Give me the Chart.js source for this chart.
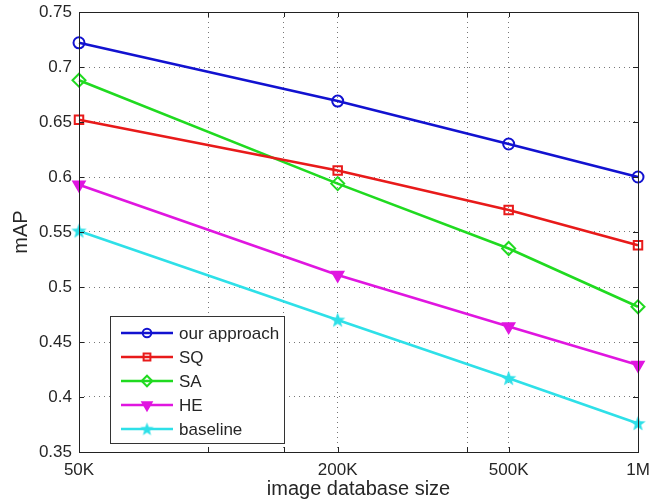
<!DOCTYPE html>
<html>
<head>
<meta charset="utf-8">
<script src="https://cdn.jsdelivr.net/npm/chart.js@4.4.1/dist/chart.umd.min.js"></script>
<style>
  html, body { margin: 0; padding: 0; background: #fff; }
  #wrap { width: 652px; height: 501px; position: relative; }
</style>
</head>
<body>
<div id="wrap"><canvas id="chart"></canvas></div>
<script>
// database sizes on the x axis
const sizes = [50000, 200000, 500000, 1000000];
const gridTicks = [50000, 100000, 150000, 200000, 400000, 500000, 1000000];
const tickNames = { 50000: '50K', 200000: '200K', 500000: '500K', 1000000: '1M' };

const seriesNames = ['our approach', 'SQ', 'SA', 'HE', 'baseline'];
const ourApproach = [0.722, 0.669, 0.630, 0.600];
const sq = [0.652, 0.606, 0.570, 0.538];
const sa = [0.688, 0.594, 0.535, 0.482];
const he = [0.593, 0.511, 0.464, 0.429];
const baseline = [0.551, 0.470, 0.417, 0.376];

const colors = ['#1212d0', '#e81a1a', '#20da20', '#e016e0', '#2ee0e8'];
const FONT = '"Liberation Sans", Arial, sans-serif';

// filled pentagram like matlab's 'p' marker
function makeStar(color, size) {
  const c = document.createElement('canvas');
  c.width = size; c.height = size;
  const g = c.getContext('2d');
  const m = size / 2;
  g.fillStyle = color;
  g.beginPath();
  for (let i = 0; i < 10; i++) {
    const r = i % 2 === 0 ? m - 0.5 : (m - 0.5) * 0.42;
    const a = -Math.PI / 2 + i * Math.PI / 5;
    const px = m + r * Math.cos(a), py = m + 0.5 + r * Math.sin(a);
    if (i === 0) g.moveTo(px, py); else g.lineTo(px, py);
  }
  g.closePath();
  g.fill();
  return c;
}
const starImg = makeStar(colors[4], 17);
const starSmall = makeStar(colors[4], 15);

const markers = [
  { pointStyle: 'circle', rotation: 0, radius: 5.5, fill: 'rgba(0,0,0,0)' },
  { pointStyle: 'rect', rotation: 0, radius: 6, fill: 'rgba(0,0,0,0)' },
  { pointStyle: 'rectRot', rotation: 0, radius: 6.5, fill: 'rgba(0,0,0,0)' },
  { pointStyle: 'triangle', rotation: 180, radius: 6.5, fill: colors[3] },
  { pointStyle: starImg, rotation: 0, radius: 7, fill: colors[4] },
];

const allValues = [ourApproach, sq, sa, he, baseline];

const datasets = allValues.map((vals, i) => ({
  label: seriesNames[i],
  data: vals.map((v, k) => ({ x: sizes[k], y: v })),
  borderColor: colors[i],
  backgroundColor: markers[i].fill,
  borderWidth: 2.6,
  pointStyle: markers[i].pointStyle,
  pointRotation: markers[i].rotation,
  pointRadius: markers[i].radius,
  pointBorderWidth: 2,
  pointBorderColor: colors[i],
  pointBackgroundColor: markers[i].fill,
  tension: 0,
  clip: false,
}));

// box, inward ticks and the legend inside the plot
const matlabBits = {
  id: 'matlabBits',
  afterDatasetsDraw(chart) {
    const ctx = chart.ctx;
    const a = chart.chartArea;
    const xs = chart.scales.x, ys = chart.scales.y;
    ctx.save();
    ctx.strokeStyle = '#222';
    ctx.lineWidth = 1;
    ctx.beginPath();
    xs.ticks.forEach(t => {
      const px = Math.round(xs.getPixelForValue(t.value)) + 0.5;
      ctx.moveTo(px, a.bottom); ctx.lineTo(px, a.bottom - 5);
      ctx.moveTo(px, a.top); ctx.lineTo(px, a.top + 5);
    });
    ys.ticks.forEach(t => {
      const py = Math.round(ys.getPixelForValue(t.value)) + 0.5;
      ctx.moveTo(a.left, py); ctx.lineTo(a.left + 5, py);
      ctx.moveTo(a.right, py); ctx.lineTo(a.right - 5, py);
    });
    ctx.stroke();
    ctx.strokeRect(Math.round(a.left) + 0.5, Math.round(a.top) + 0.5,
      Math.round(a.right - a.left), Math.round(a.bottom - a.top));

    // legend box
    const bx = a.left + 31, by = a.bottom - 136, bw = 174, bh = 127;
    ctx.fillStyle = '#fff';
    ctx.fillRect(bx, by, bw, bh);
    ctx.strokeStyle = '#333';
    ctx.strokeRect(bx + 0.5, by + 0.5, bw, bh);
    ctx.font = '17px ' + FONT;
    ctx.textBaseline = 'middle';
    chart.data.datasets.forEach((ds, i) => {
      const y = by + 17 + i * 24;
      ctx.strokeStyle = ds.borderColor;
      ctx.lineWidth = 2.6;
      ctx.beginPath();
      ctx.moveTo(bx + 11, y); ctx.lineTo(bx + 63, y);
      ctx.stroke();
      ctx.lineWidth = 2;
      ctx.fillStyle = ds.pointBackgroundColor;
      if (ds.pointStyle instanceof HTMLCanvasElement) {
        ctx.drawImage(starSmall, bx + 37 - starSmall.width / 2, y - starSmall.height / 2);
      } else if (Chart.helpers && Chart.helpers.drawPoint) {
        Chart.helpers.drawPoint(ctx, {
          pointStyle: ds.pointStyle, rotation: ds.pointRotation,
          radius: ds.pointRadius - 1.2, borderWidth: 2
        }, bx + 37, y);
      }
      ctx.fillStyle = '#262626';
      ctx.fillText(ds.label, bx + 69, y + 1);
    });
    ctx.restore();
  }
};

new Chart(document.getElementById('chart'), {
  type: 'line',
  data: { datasets },
  plugins: [matlabBits],
  options: {
    responsive: true,
    maintainAspectRatio: false,
    animation: false,
    layout: { padding: { left: 0, top: 12, right: 14, bottom: 0 } },
    plugins: { legend: { display: false }, tooltip: { enabled: false } },
    scales: {
      x: {
        type: 'logarithmic',
        min: 50000,
        max: 1000000,
        afterBuildTicks(scale) {
          scale.ticks = gridTicks.map(v => ({ value: v }));
        },
        afterFit(scale) {
          scale.height = 49;
          scale.paddingLeft = 0;
          scale.paddingRight = 0;
        },
        ticks: {
          autoSkip: false,
          maxRotation: 0,
          padding: 8,
          color: '#262626',
          font: { family: FONT, size: 17 },
          callback: (v) => tickNames[v] || ''
        },
        grid: { color: '#777', lineWidth: 1, drawTicks: false },
        border: { display: false, dash: [1, 4] },
        title: {
          display: true,
          text: 'image database size',
          color: '#262626',
          padding: { top: 0, bottom: 0 },
          font: { family: FONT, size: 20 }
        }
      },
      y: {
        min: 0.35,
        max: 0.75,
        afterFit(scale) {
          scale.width = 79;
          scale.paddingTop = 0;
          scale.paddingBottom = 0;
        },
        ticks: {
          stepSize: 0.05,
          padding: 7,
          color: '#262626',
          font: { family: FONT, size: 17 },
          callback: (v) => String(Number(v.toFixed(2)))
        },
        grid: { color: '#777', lineWidth: 1, drawTicks: false },
        border: { display: false, dash: [1, 4] },
        title: {
          display: true,
          text: 'mAP',
          color: '#262626',
          padding: { top: 9, bottom: 0 },
          font: { family: FONT, size: 20 }
        }
      }
    }
  }
});
</script>
</body>
</html>
